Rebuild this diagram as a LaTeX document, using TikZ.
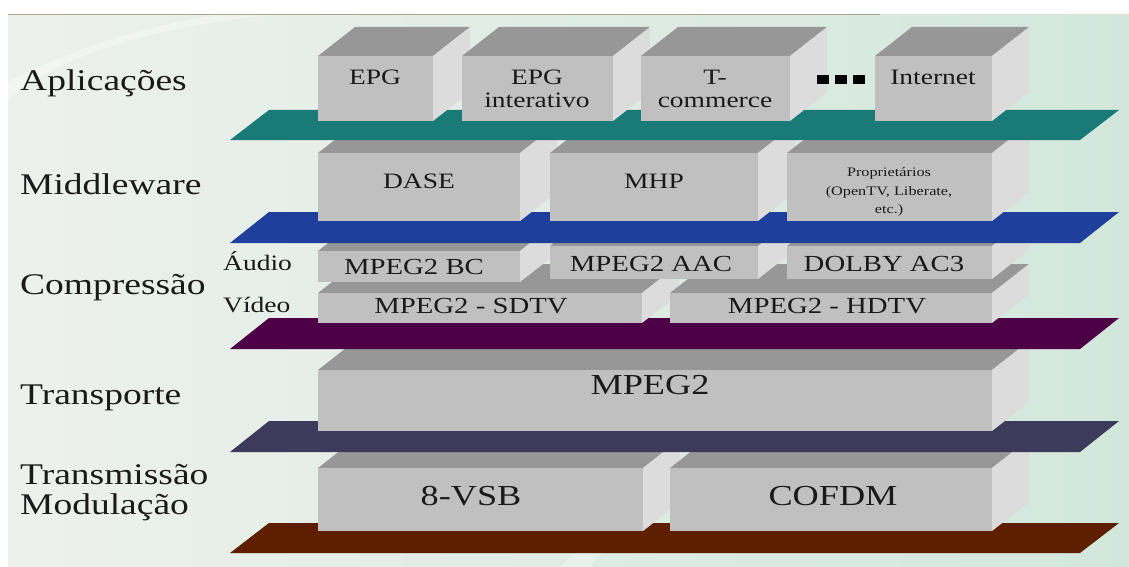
\documentclass[tikz,border=0pt]{standalone}
\usepackage{fontspec}
\setmainfont{Liberation Serif}[FakeStretch=1.25]
\definecolor{bgL}{HTML}{EDF1ED}
\definecolor{bgR}{HTML}{D2E7DB}
\definecolor{tanline}{HTML}{B4A48A}
\definecolor{plTeal}{HTML}{1A7A78}
\definecolor{plBlue}{HTML}{1F3F9C}
\definecolor{plPurple}{HTML}{4E0047}
\definecolor{plSlate}{HTML}{3C3B5B}
\definecolor{plBrown}{HTML}{5E1F00}
\definecolor{cFront}{HTML}{C0C0C0}
\definecolor{cTop}{HTML}{979797}
\definecolor{cSide}{HTML}{DCDCDC}
\definecolor{ink}{HTML}{1A1A1A}
\newcommand\plate[3]{\fill[#1] (230,#3) -- (269,#2) -- (1119,#2) -- (1080,#3) -- cycle;}
\newcommand\slab[4]{%
  \fill[cTop] (#1,#3) -- (#1+37,#3-29) -- (#2+37,#3-29) -- (#2,#3) -- cycle;
  \fill[cSide] (#2,#3) -- (#2+37,#3-29) -- (#2+37,#4-29) -- (#2,#4) -- cycle;
  \fill[cFront] (#1,#3) rectangle (#2,#4);}
\begin{document}
\begin{tikzpicture}[x=1pt,y=-1pt,
  lab/.style={anchor=base west, inner sep=0, text=ink, font=\fontsize{30}{36}\selectfont},
  sub/.style={anchor=base west, inner sep=0, text=ink, font=\fontsize{22}{26}\selectfont},
  bt/.style={anchor=base, inner sep=0, text=ink, font=\fontsize{22}{26}\selectfont},
  ct/.style={anchor=base, inner sep=0, text=ink, font=\fontsize{23}{27}\selectfont},
  bts/.style={anchor=base, inner sep=0, text=ink, font=\fontsize{13}{15}\selectfont},
  bigt/.style={anchor=base, inner sep=0, text=ink, font=\fontsize{29}{34}\selectfont},
  dotsq/.style={fill=black, inner sep=0, minimum width=12pt, minimum height=9pt}]
\useasboundingbox (0,0) rectangle (1129,567);
\fill[white] (0,0) rectangle (1129,567);
\shade[left color=bgL, right color=bgR] (8,15) rectangle (1129,567);
\fill[white, opacity=0.35] (8,100) .. controls (60,55) and (150,28) .. (270,15) -- (215,15) .. controls (120,30) and (50,60) .. (8,82) -- cycle;
\fill[white, opacity=0.3] (560,567) .. controls (580,545) and (600,535) .. (640,528) -- (660,528) .. controls (620,540) and (600,550) .. (590,567) -- cycle;
\draw[line width=1.5pt, tanline] (8,14.5) -- (880,14.5);
\draw[line width=1.5pt, tanline!35] (880,14.5) -- (1129,14.5);
% transmission layer
\plate{plBrown}{523}{553}
\slab{318}{643}{468}{531}
\slab{670}{992}{468}{531}
% transport layer
\plate{plSlate}{421}{452}
\slab{318}{992}{370}{431}
% compression layer
\plate{plPurple}{318}{349}
\slab{318}{642}{293}{323}
\slab{670}{992}{293}{323}
\slab{318}{520}{251}{282}
\slab{550}{758}{246}{279}
\slab{787}{992}{246}{279}
% middleware layer
\plate{plBlue}{212}{243}
\slab{318}{520}{153}{221}
\slab{550}{758}{153}{221}
\slab{787}{992}{153}{221}
% application layer
\plate{plTeal}{110}{140}
\slab{318}{433}{56}{121}
\slab{462}{613}{56}{121}
\slab{641}{790}{56}{121}
\slab{875}{992}{56}{121}
% labels
\node[lab] (lApl) at (20,91) {Aplicações};
\node[lab] (lMid) at (20,194) {Middleware};
\node[lab] (lComp) at (20,294) {Compressão};
\node[lab] (lTra) at (20,404) {Transporte};
\node[lab] (lTm1) at (20,484) {Transmissão};
\node[lab] (lTm2) at (20,514) {Modulação};
\node[sub] (lAud) at (223,270) {Áudio};
\node[sub] (lVid) at (223,312) {Vídeo};
% application texts
\node[bt] (tEPG) at (375,85) {EPG};
\node[bt] (tEPGi1) at (537,85) {EPG};
\node[bt] (tEPGi2) at (537,108) {interativo};
\node[bt] (tTc1) at (715,85) {T-};
\node[bt] (tTc2) at (715,108) {commerce};
\node[bt] (tInt) at (933,85) {Internet};
\node[dotsq] (d1) at (823,80) {};
\node[dotsq] (d2) at (841,80) {};
\node[dotsq] (d3) at (859,80) {};
% middleware texts
\node[bt] (tDASE) at (419,188) {DASE};
\node[bt] (tMHP) at (654,188) {MHP};
\node[bts] (tPr1) at (889,176) {Proprietários};
\node[bts] (tPr2) at (889,195) {(OpenTV, Liberate,};
\node[bts] (tPr3) at (889,213) {etc.)};
% compression texts
\node[ct] (tBC) at (414,274) {MPEG2 BC};
\node[ct] (tAAC) at (651,271) {MPEG2 AAC};
\node[ct] (tAC3) at (884,271) {DOLBY AC3};
\node[ct] (tSD) at (471,313) {MPEG2 - SDTV};
\node[ct] (tHD) at (827,313) {MPEG2 - HDTV};
% transport / transmission texts
\node[bigt] (tMPEG) at (650,394) {MPEG2};
\node[bigt] (tVSB) at (471,505) {8-VSB};
\node[bigt] (tOFDM) at (833,505) {COFDM};
\end{tikzpicture}
\end{document}
